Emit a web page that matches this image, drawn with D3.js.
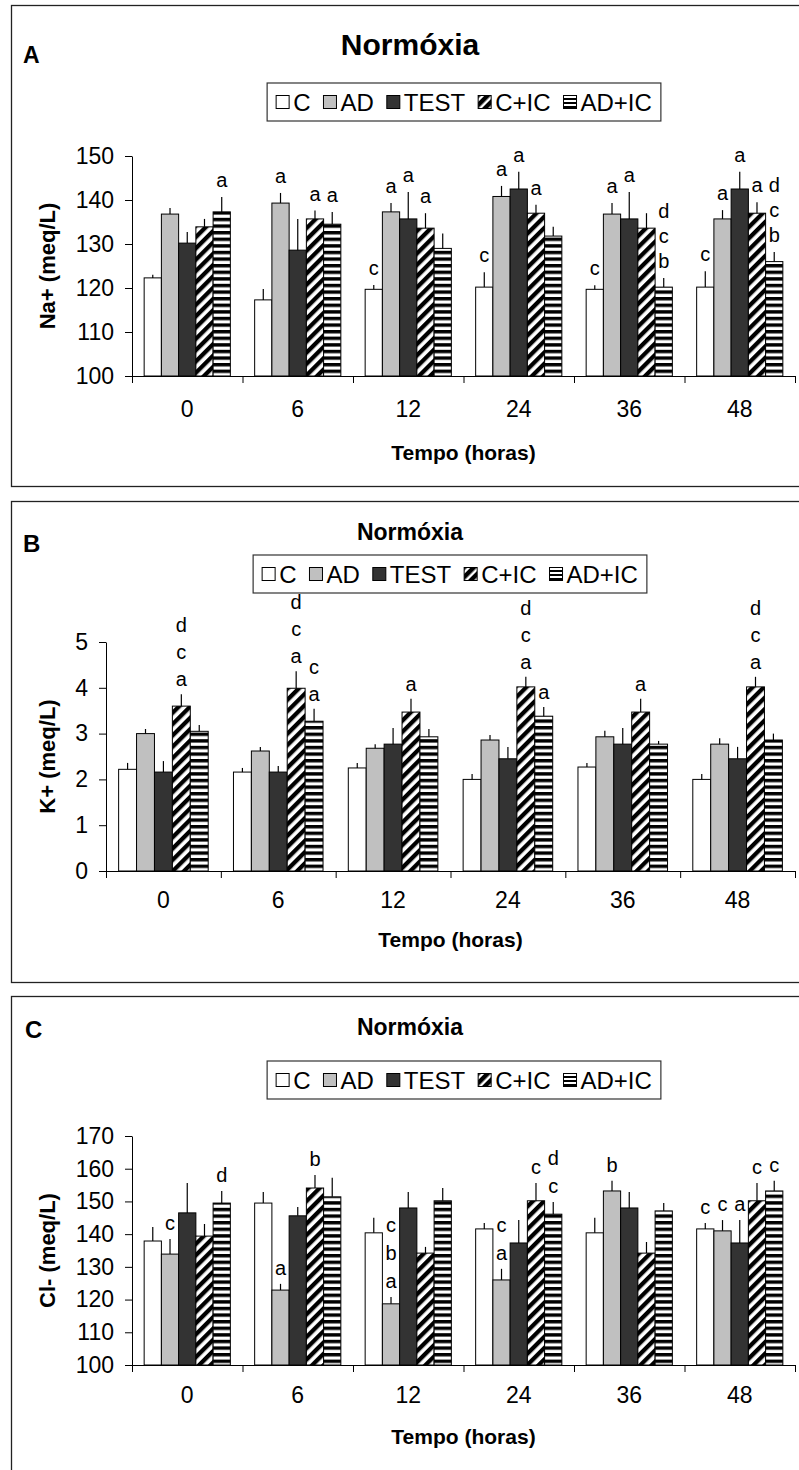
<!DOCTYPE html>
<html>
<head>
<meta charset="utf-8">
<script src="https://cdn.jsdelivr.net/npm/d3@7"></script>
<style>
  body { margin: 0; background: #fff; }
  text { font-family: "Liberation Sans", Arial, sans-serif; fill: #000; }
</style>
</head>
<body>
<script>
// categories and series
const hours = ['0', '6', '12', '24', '36', '48']
const groups = ['C', 'AD', 'TEST', 'C+IC', 'AD+IC']

// Na+ (meq/L): mean per hour per group, and error bar length
const naMean = [
  [122.3, 136.8, 130.2, 133.9, 137.3],
  [117.3, 139.3, 128.6, 135.7, 134.5],
  [119.7, 137.3, 135.7, 133.6, 129.0],
  [120.2, 140.8, 142.5, 137.0, 131.8],
  [119.7, 136.8, 135.7, 133.6, 120.2],
  [120.2, 135.7, 142.5, 137.0, 126.0]
]
const naErr = [
  [0.7, 1.4, 2.5, 1.8, 3.4],
  [2.5, 2.3, 7.1, 1.9, 2.8],
  [1.0, 2.0, 6.1, 3.4, 3.4],
  [3.4, 2.4, 3.9, 1.9, 2.1],
  [0.9, 2.5, 6.1, 3.4, 2.1],
  [3.6, 2.0, 3.9, 2.5, 2.2]
]
const naLetters = [
  [[], [], [], [], ['a']],
  [[], ['a'], [], ['a'], ['a']],
  [['c'], ['a'], ['a'], ['a'], []],
  [['c'], ['a'], ['a'], ['a'], []],
  [['c'], ['a'], ['a'], [], ['d', 'c', 'b']],
  [['c'], ['a'], ['a'], ['a'], ['d', 'c', 'b']]
]

// K+ (meq/L)
const kMean = [
  [2.22, 3.00, 2.16, 3.60, 3.05],
  [2.16, 2.62, 2.16, 3.99, 3.27],
  [2.25, 2.68, 2.77, 3.47, 2.93],
  [2.00, 2.86, 2.45, 4.02, 3.38],
  [2.27, 2.93, 2.77, 3.47, 2.77],
  [2.00, 2.77, 2.45, 4.02, 2.86]
]
const kErr = [
  [0.14, 0.10, 0.24, 0.26, 0.14],
  [0.09, 0.09, 0.13, 0.37, 0.27],
  [0.11, 0.09, 0.35, 0.29, 0.17],
  [0.12, 0.11, 0.26, 0.22, 0.20],
  [0.09, 0.13, 0.35, 0.29, 0.07],
  [0.12, 0.13, 0.26, 0.22, 0.14]
]
const kLetters = [
  [[], [], [], ['d', 'c', 'a'], []],
  [[], [], [], ['d', 'c', 'a'], ['c', 'a']],
  [[], [], [], ['a'], []],
  [[], [], [], ['d', 'c', 'a'], ['a']],
  [[], [], [], ['a'], []],
  [[], [], [], ['d', 'c', 'a'], []]
]

// Cl- (meq/L)
const clMean = [
  [137.9, 133.9, 146.5, 139.4, 149.5],
  [149.5, 122.9, 145.6, 154.1, 151.4],
  [140.4, 118.7, 148.0, 134.2, 150.2],
  [141.6, 126.0, 137.3, 150.2, 146.1],
  [140.4, 153.2, 148.0, 134.2, 147.1],
  [141.6, 141.0, 137.3, 150.2, 153.2]
]
const clErr = [
  [4.3, 4.6, 9.1, 3.7, 3.7],
  [3.4, 1.9, 2.7, 4.0, 5.8],
  [4.6, 2.1, 4.9, 1.9, 3.9],
  [1.8, 3.4, 7.0, 5.4, 3.7],
  [4.6, 3.1, 4.9, 3.4, 2.4],
  [1.8, 3.3, 7.0, 5.4, 3.1]
]
const clLetters = [
  [[], ['c'], [], [], ['d']],
  [[], ['a'], [], ['b'], []],
  [[], ['c', 'b', 'a'], [], [], []],
  [[], ['c', 'a'], [], ['c'], ['d', 'c']],
  [[], ['b'], [], [], []],
  [['c'], ['c'], ['a'], ['c'], ['c']]
]

const fills = ['#ffffff', '#c0c0c0', '#333333', 'url(#diag)', 'url(#horiz)']
const legendFills = ['#ffffff', '#c0c0c0', '#333333', 'url(#diagS)', 'url(#horizS)']

const svg = d3.select('body').append('svg')
  .attr('width', 799)
  .attr('height', 1470)

var defs = svg.append('defs')
var p = defs.append('pattern').attr('id', 'diag')
  .attr('patternUnits', 'userSpaceOnUse')
  .attr('width', 8).attr('height', 8)
  .attr('patternTransform', 'rotate(45)')
p.append('rect').attr('width', 8).attr('height', 8).attr('fill', '#fff')
p.append('rect').attr('width', 4.3).attr('height', 8).attr('fill', '#000')

p = defs.append('pattern').attr('id', 'horiz')
  .attr('patternUnits', 'userSpaceOnUse')
  .attr('width', 8).attr('height', 6.6)
p.append('rect').attr('width', 8).attr('height', 6.6).attr('fill', '#fff')
p.append('rect').attr('width', 8).attr('height', 3.4).attr('fill', '#000')

p = defs.append('pattern').attr('id', 'diagS')
  .attr('patternUnits', 'userSpaceOnUse')
  .attr('width', 7).attr('height', 7)
  .attr('patternTransform', 'rotate(45)')
p.append('rect').attr('width', 7).attr('height', 7).attr('fill', '#fff')
p.append('rect').attr('width', 4.5).attr('height', 7).attr('fill', '#000')

p = defs.append('pattern').attr('id', 'horizS')
  .attr('patternUnits', 'userSpaceOnUse')
  .attr('width', 8).attr('height', 4)
p.append('rect').attr('width', 8).attr('height', 4).attr('fill', '#fff')
p.append('rect').attr('width', 8).attr('height', 2).attr('fill', '#000')

const panels = [
  {
    frame: [11, 5, 800, 481], letter: 'A', letterX: 23, letterY: 63, letterSize: 23,
    titleY: 55, titleSize: 30, legendCX: 464, legendCY: 102,
    x0: 132, x1: 795, yTop: 156, yBot: 376, domain: [100, 150], step: 10,
    yLabel: 'Na+ (meq/L)', mean: naMean, err: naErr, letters: naLetters,
    tickOffset: 41, xTitleY: 460, stack: 25, gap: 10
  },
  {
    frame: [11, 501, 800, 481], letter: 'B', letterX: 23, letterY: 552, letterSize: 24,
    titleY: 540, titleSize: 23, legendCX: 450, legendCY: 574,
    x0: 106, x1: 795, yTop: 642, yBot: 871, domain: [0, 5], step: 1,
    yLabel: 'K+ (meq/L)', mean: kMean, err: kErr, letters: kLetters,
    tickOffset: 37, xTitleY: 947, stack: 27, gap: 8
  },
  {
    frame: [11, 996, 800, 490], letter: 'C', letterX: 25, letterY: 1038, letterSize: 24,
    titleY: 1035, titleSize: 23, legendCX: 464, legendCY: 1080,
    x0: 132, x1: 795, yTop: 1136, yBot: 1365, domain: [100, 170], step: 10,
    yLabel: 'Cl- (meq/L)', mean: clMean, err: clErr, letters: clLetters,
    tickOffset: 38, xTitleY: 1444, stack: 28, gap: 9
  }
]

panels.forEach(function(cfg) { drawPanel(cfg) })

function drawPanel(cfg) {
  var g = svg.append('g')

  g.append('rect')
    .attr('x', cfg.frame[0] + 0.5).attr('y', cfg.frame[1] + 0.5)
    .attr('width', cfg.frame[2]).attr('height', cfg.frame[3])
    .attr('fill', 'none').attr('stroke', '#222').attr('stroke-width', 1.3)

  g.append('text')
    .attr('x', cfg.letterX).attr('y', cfg.letterY)
    .style('font-size', cfg.letterSize + 'px').style('font-weight', 'bold')
    .text(cfg.letter)

  g.append('text')
    .attr('x', 410).attr('y', cfg.titleY)
    .attr('text-anchor', 'middle')
    .style('font-size', cfg.titleSize + 'px').style('font-weight', 'bold')
    .text('Normóxia')

  drawLegend(g, cfg.legendCX, cfg.legendCY)

  var x = d3.scaleBand().domain(hours)
    .range([cfg.x0, cfg.x1]).paddingInner(0.22).paddingOuter(0.11)
  var xs = d3.scaleBand().domain(groups).range([0, x.bandwidth()])
  var y = d3.scaleLinear().domain(cfg.domain).range([cfg.yBot, cfg.yTop])
  var xEdge = d3.scaleLinear().domain([0, hours.length]).range([cfg.x0, cfg.x1])

  // bars
  var rows = []
  hours.forEach(function(h, i) {
    groups.forEach(function(s, j) {
      rows.push({ h: h, s: s, j: j, v: cfg.mean[i][j], e: cfg.err[i][j], lt: cfg.letters[i][j] })
    })
  })

  g.selectAll('.bar').data(rows).enter().append('rect')
    .attr('class', 'bar')
    .attr('x', function(d) { return x(d.h) + xs(d.s) })
    .attr('y', function(d) { return y(d.v) })
    .attr('width', xs.bandwidth())
    .attr('height', function(d) { return y(cfg.domain[0]) - y(d.v) })
    .attr('fill', function(d) { return fills[d.j] })
    .attr('stroke', '#000').attr('stroke-width', 1)

  g.selectAll('.errbar').data(rows).enter().append('line')
    .attr('class', 'errbar')
    .attr('x1', function(d) { return x(d.h) + xs(d.s) + xs.bandwidth() / 2 })
    .attr('x2', function(d) { return x(d.h) + xs(d.s) + xs.bandwidth() / 2 })
    .attr('y1', function(d) { return y(d.v) })
    .attr('y2', function(d) { return y(d.v + d.e) })
    .attr('stroke', '#000').attr('stroke-width', 1.2)

  // significance letters stacked above error bars
  rows.forEach(function(d) {
    var n = d.lt.length
    d.lt.forEach(function(l, k) {
      g.append('text')
        .attr('x', x(d.h) + xs(d.s) + xs.bandwidth() / 2)
        .attr('y', y(d.v + d.e) - cfg.gap - (n - 1 - k) * cfg.stack)
        .attr('text-anchor', 'middle')
        .style('font-size', '20px')
        .text(l)
    })
  })

  // axes
  var yAxis = d3.axisLeft(y)
    .tickValues(d3.range(cfg.domain[0], cfg.domain[1] + cfg.step / 2, cfg.step))
    .tickFormat(d3.format('d'))
    .tickSizeInner(7).tickSizeOuter(0).tickPadding(11)
  var ya = g.append('g').attr('transform', 'translate(' + cfg.x0 + ',0)').call(yAxis)
  ya.selectAll('text').style('font-size', '23px').style('font-family', '"Liberation Sans", Arial, sans-serif')
  ya.selectAll('line,path').attr('stroke', '#000')

  var xAxis = d3.axisBottom(xEdge)
    .tickValues(d3.range(hours.length + 1))
    .tickSizeInner(7).tickSizeOuter(0).tickFormat('')
  var xa = g.append('g').attr('transform', 'translate(0,' + cfg.yBot + ')').call(xAxis)
  xa.selectAll('line,path').attr('stroke', '#000')

  g.selectAll('.cat').data(hours).enter().append('text')
    .attr('class', 'cat')
    .attr('x', function(d) { return x(d) + x.bandwidth() / 2 })
    .attr('y', cfg.yBot + cfg.tickOffset)
    .attr('text-anchor', 'middle')
    .style('font-size', '23px')
    .text(function(d) { return d })

  g.append('text')
    .attr('x', (cfg.x0 + cfg.x1) / 2).attr('y', cfg.xTitleY)
    .attr('text-anchor', 'middle')
    .style('font-size', '21px').style('font-weight', 'bold')
    .text('Tempo (horas)')

  g.append('text')
    .attr('transform', 'translate(55,' + (cfg.yTop + cfg.yBot) / 2 + ') rotate(-90)')
    .attr('text-anchor', 'middle')
    .style('font-size', '22px').style('font-weight', 'bold')
    .text(cfg.yLabel)
}

function drawLegend(g, cx, cy) {
  var lg = g.append('g')
  var box = lg.append('rect')
  var sw = 13
  var pos = 0
  var items = []
  groups.forEach(function(s, j) {
    var it = lg.append('g')
    it.append('rect')
      .attr('x', 0).attr('y', -sw / 2).attr('width', sw).attr('height', sw)
      .attr('fill', legendFills[j]).attr('stroke', '#000').attr('stroke-width', 1)
    var t = it.append('text')
      .attr('x', sw + 4).attr('y', 8.5)
      .style('font-size', '24px')
      .text(s)
    var w = sw + 4 + t.node().getComputedTextLength()
    items.push({ node: it, x: pos })
    pos += w + 13
  })
  var total = pos - 13
  var pad = 9
  var left = cx - total / 2
  items.forEach(function(d) {
    d.node.attr('transform', 'translate(' + (left + d.x) + ',' + cy + ')')
  })
  box.attr('x', left - pad).attr('y', cy - 19)
    .attr('width', total + pad * 2).attr('height', 38)
    .attr('fill', '#fff').attr('stroke', '#333').attr('stroke-width', 1.2)
}
</script>
</body>
</html>
